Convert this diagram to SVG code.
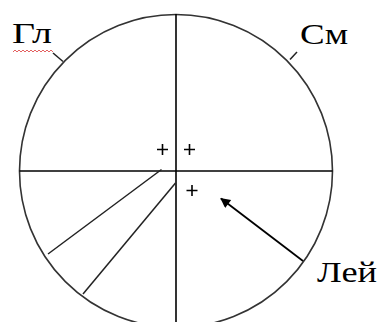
<svg xmlns="http://www.w3.org/2000/svg" width="380" height="322" viewBox="0 0 380 322">
<style>
.ln{stroke:#000;stroke-width:1.6;fill:none}
.cir{stroke:#333;stroke-width:1.6;fill:none}
.rad{stroke:#222;stroke-width:1.5;fill:none}
.lbl{font-family:"Liberation Serif",serif;font-size:29px;fill:#000}
</style>
<defs>
<marker id="ah" viewBox="0 0 10 10" refX="9" refY="5" markerWidth="12" markerHeight="10" markerUnits="userSpaceOnUse" orient="auto">
<path d="M0,0 L10,5 L0,10 z" fill="#000"/>
</marker>
</defs>
<rect width="380" height="322" fill="#fff"/>
<g id="circle">
<circle class="cir" cx="176" cy="171" r="156.5"/>
<line class="ln" x1="19.5" y1="171" x2="332.5" y2="171"/>
<line class="ln" x1="176" y1="14" x2="176" y2="322"/>
</g>
<g id="pluses" class="ln">
<path d="M157,149.5h11M162.5,144v11"/>
<path d="M184,149.5h11M189.5,144v11"/>
<path d="M186.5,190.5h11M192,185v11"/>
</g>
<g id="connectors">
<line class="rad" x1="161.5" y1="169.5" x2="48" y2="254"/>
<line class="rad" x1="175.5" y1="183" x2="83" y2="294"/>
<line class="rad" x1="53" y1="53" x2="63" y2="61.5"/>
<line class="rad" x1="290" y1="59.5" x2="297" y2="52"/>
<line class="ln" x1="303" y1="261" x2="221" y2="198.5" marker-end="url(#ah)" style="stroke-width:1.8"/>
</g>
<g id="gl">
<text class="lbl" x="12" y="43" textLength="40" lengthAdjust="spacingAndGlyphs">Гл</text>
<polyline points="13,52 15,50 17,52 19,50 21,52 23,50 25,52 27,50 29,52 31,50 33,52 35,50 37,52 39,50 41,52 43,50 45,52 47,50 49,52 51,50 53,52" fill="none" stroke="#e05050" stroke-width="0.9"/>
</g>
<g id="sm">
<text class="lbl" x="300" y="44" textLength="48" lengthAdjust="spacingAndGlyphs">См</text>
</g>
<g id="lei">
<text class="lbl" x="317" y="282" textLength="60" lengthAdjust="spacingAndGlyphs">Лей</text>
</g>
</svg>
